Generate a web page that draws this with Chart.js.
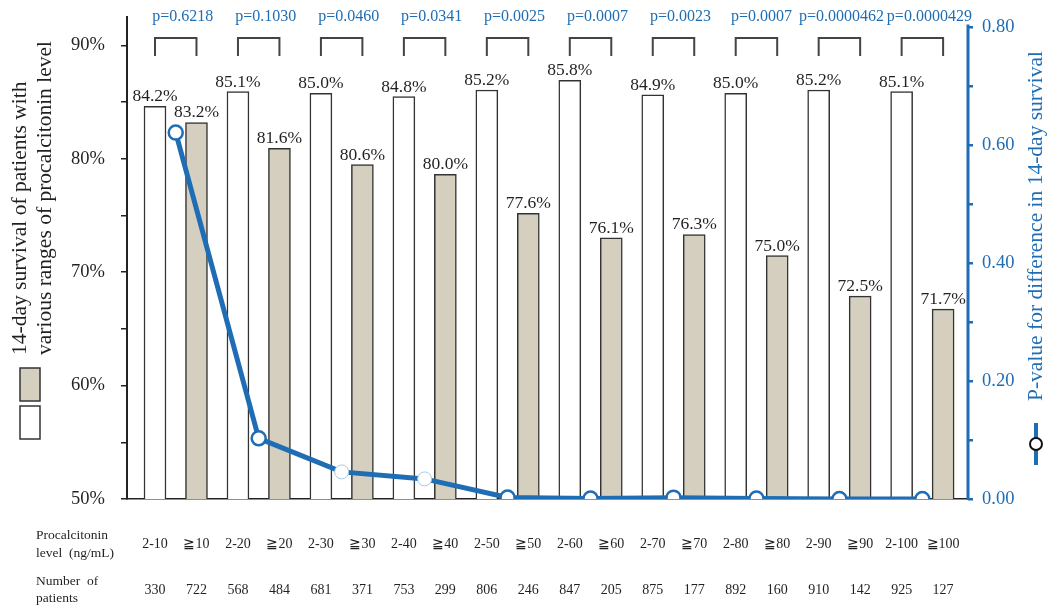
<!DOCTYPE html>
<html>
<head>
<meta charset="utf-8">
<script src="https://cdn.jsdelivr.net/npm/chart.js@4.4.1/dist/chart.umd.min.js"></script>
<style>
  body { margin: 0; background: #fff; }
  #wrap { width: 1051px; height: 605px; }
</style>
</head>
<body>
<div id="wrap"><canvas id="pctChart" width="1051" height="605"></canvas></div>
<script>
// categories along the x axis (pairs: 2-N vs >=N)
const categories = ['2-10', '≧10', '2-20', '≧20', '2-30', '≧30', '2-40', '≧40', '2-50', '≧50',
    '2-60', '≧60', '2-70', '≧70', '2-80', '≧80', '2-90', '≧90', '2-100', '≧100'];
const patients = [330, 722, 568, 484, 681, 371, 753, 299, 806, 246,
    847, 205, 875, 177, 892, 160, 910, 142, 925, 127];

// 14-day survival (%)
const survivalBelow = [84.2, 85.1, 85.0, 84.8, 85.2, 85.8, 84.9, 85.0, 85.2, 85.1];
const survivalAbove = [83.2, 81.6, 80.6, 80.0, 77.6, 76.1, 76.3, 75.0, 72.5, 71.7];

// p-value for difference in 14-day survival, one per pair
const pValues = [0.6218, 0.1030, 0.0460, 0.0341, 0.0025, 0.0007, 0.0023, 0.0007, 0.0000462, 0.0000429];
const pLabels = ['p=0.6218', 'p=0.1030', 'p=0.0460', 'p=0.0341', 'p=0.0025',
    'p=0.0007', 'p=0.0023', 'p=0.0007', 'p=0.0000462', 'p=0.0000429'];

// tick values
const survivalTicks = [50, 55, 60, 65, 70, 75, 80, 85, 90];
const pTicks = [0, 0.1, 0.2, 0.3, 0.4, 0.5, 0.6, 0.7, 0.8];

const BLUE = '#1f6db4';
const BEIGE = '#d4cfbe';
const INK = '#231f20';
const SERIF = "'Liberation Serif', 'Times New Roman', serif";

const whiteBars = survivalBelow.map((v, i) => ({ x: i * 2, y: v }));
const beigeBars = survivalAbove.map((v, i) => ({ x: i * 2 + 1, y: v }));
const pPoints = pValues.map((v, i) => ({ x: i * 2 + 0.5, y: v }));

// no extra room for half-labels at the ends of the axes
const noEdgePadding = scale => {
    scale.paddingTop = 0;
    scale.paddingBottom = 0;
    scale.paddingLeft = 0;
    scale.paddingRight = 0;
};

// everything drawn around the plot: labels, brackets, titles, legend keys
const overlay = {
    id: 'overlay',
    afterDatasetsDraw(chart) {
        const ctx = chart.ctx;
        ctx.save();
        ctx.font = '17.5px ' + SERIF;
        ctx.fillStyle = INK;
        ctx.textAlign = 'center';
        ctx.textBaseline = 'alphabetic';
        [0, 1].forEach(di => {
            const values = di === 0 ? survivalBelow : survivalAbove;
            chart.getDatasetMeta(di).data.forEach((bar, i) => {
                ctx.fillText(values[i].toFixed(1) + '%', bar.x, bar.y - 5);
            });
        });
        ctx.restore();
    },
    afterDraw(chart) {
        const { ctx, chartArea, scales } = chart;
        const x = scales.x, yP = scales.yP;
        ctx.save();

        // brackets + p-values over every pair
        ctx.strokeStyle = '#444';
        ctx.lineWidth = 2;
        ctx.font = '16px ' + SERIF;
        ctx.textAlign = 'center';
        ctx.textBaseline = 'alphabetic';
        pLabels.forEach((txt, i) => {
            const x0 = x.getPixelForValue(i * 2);
            const x1 = x.getPixelForValue(i * 2 + 1);
            const top = chartArea.top + 21;
            ctx.beginPath();
            ctx.moveTo(x0, top + 18);
            ctx.lineTo(x0, top);
            ctx.lineTo(x1, top);
            ctx.lineTo(x1, top + 18);
            ctx.stroke();
            ctx.fillStyle = BLUE;
            let shift = 7;
            if (i === 7) shift = 5;
            if (i === 8) shift = 2;
            ctx.fillText(txt, (x0 + x1) / 2 + shift, 21);
        });

        // right axis line, only up to 0.80
        ctx.strokeStyle = BLUE;
        ctx.lineWidth = 3;
        ctx.beginPath();
        ctx.moveTo(chartArea.right, yP.getPixelForValue(0) + 1);
        ctx.lineTo(chartArea.right, yP.getPixelForValue(0.8) - 3);
        ctx.stroke();

        // left title (two lines, rotated)
        ctx.fillStyle = INK;
        ctx.font = '21.5px ' + SERIF;
        ctx.textAlign = 'left';
        ctx.textBaseline = 'middle';
        [['14-day survival of patients with', 20], ['various ranges of procalcitonin level', 45]].forEach(([t, px]) => {
            ctx.save();
            ctx.translate(px, 355);
            ctx.rotate(-Math.PI / 2);
            ctx.fillText(t, 0, 0);
            ctx.restore();
        });

        // left legend keys
        ctx.lineWidth = 1.5;
        ctx.strokeStyle = '#333';
        ctx.fillStyle = BEIGE;
        ctx.fillRect(20, 368, 20, 33);
        ctx.strokeRect(20, 368, 20, 33);
        ctx.fillStyle = '#fff';
        ctx.fillRect(20, 406, 20, 33);
        ctx.strokeRect(20, 406, 20, 33);

        // right title
        ctx.fillStyle = BLUE;
        ctx.textAlign = 'center';
        ctx.save();
        ctx.translate(1036, 226);
        ctx.rotate(-Math.PI / 2);
        ctx.fillText('P-value for difference in 14-day survival', 0, 0);
        ctx.restore();

        // right legend key
        ctx.strokeStyle = BLUE;
        ctx.lineWidth = 4;
        ctx.beginPath();
        ctx.moveTo(1036, 423);
        ctx.lineTo(1036, 465);
        ctx.stroke();
        ctx.beginPath();
        ctx.arc(1036, 444, 6, 0, Math.PI * 2);
        ctx.fillStyle = '#fff';
        ctx.fill();
        ctx.strokeStyle = '#111';
        ctx.lineWidth = 2;
        ctx.stroke();

        // row headers under the axis
        ctx.fillStyle = INK;
        ctx.font = '13.5px ' + SERIF;
        ctx.textAlign = 'left';
        ctx.textBaseline = 'middle';
        ctx.fillText('Procalcitonin', 36, 535);
        ctx.fillText('level  (ng/mL)', 36, 553);
        ctx.fillText('Number  of', 36, 581);
        ctx.fillText('patients', 36, 598);

        ctx.restore();
    }
};

new Chart(document.getElementById('pctChart'), {
    type: 'bar',
    data: {
        datasets: [
            {
                label: '2-N',
                data: whiteBars,
                yAxisID: 'yBar',
                backgroundColor: '#fff',
                borderColor: '#333',
                borderWidth: 1.5,
                barThickness: 22,
                grouped: false,
                order: 1
            },
            {
                label: '>=N',
                data: beigeBars,
                yAxisID: 'yBar',
                backgroundColor: BEIGE,
                borderColor: '#333',
                borderWidth: 1.5,
                barThickness: 22,
                grouped: false,
                order: 1
            },
            {
                type: 'line',
                label: 'p-value',
                data: pPoints,
                yAxisID: 'yP',
                borderColor: BLUE,
                borderWidth: 5,
                tension: 0,
                pointRadius: 7,
                pointBackgroundColor: '#fff',
                pointBorderColor: [BLUE, BLUE, '#a9c9e8', '#a9c9e8', BLUE, BLUE, BLUE, BLUE, BLUE, BLUE],
                pointBorderWidth: [2.5, 2.5, 1, 1, 2.5, 2.5, 2.5, 2.5, 2.5, 2.5],
                order: 0
            }
        ]
    },
    options: {
        responsive: false,
        animation: false,
        layout: { padding: { top: 17, left: 0, right: 0, bottom: 0 } },
        plugins: {
            legend: { display: false },
            tooltip: { enabled: false }
        },
        scales: {
            x: {
                type: 'linear',
                position: 'bottom',
                min: -0.675,
                max: 19.6,
                offset: false,
                grid: { display: false, drawTicks: false, offset: false },
                border: { display: true, color: '#222', width: 1.5 },
                afterBuildTicks: scale => {
                    scale.ticks = categories.map((c, i) => ({ value: i }));
                },
                afterFit: scale => { noEdgePadding(scale); scale.height = 106; },
                ticks: {
                    autoSkip: false,
                    maxRotation: 0,
                    padding: 22,
                    color: INK,
                    font: { family: SERIF, size: 14, lineHeight: '46px' },
                    callback: v => [categories[Math.round(v)], String(patients[Math.round(v)])]
                }
            },
            y: {
                position: 'left',
                min: 50,
                max: 92.5,
                grid: { drawOnChartArea: false, color: '#222', lineWidth: 1.5, tickLength: 6 },
                border: { display: true, color: '#222', width: 2 },
                afterBuildTicks: scale => {
                    scale.ticks = survivalTicks.map(v => ({ value: v }));
                },
                afterFit: scale => { noEdgePadding(scale); scale.width = 127; },
                ticks: {
                    padding: 16,
                    color: INK,
                    font: { family: SERIF, size: 18.5 },
                    callback: v => (v % 10 === 0 ? v + '%' : '')
                }
            },
            yBar: {
                display: false,
                min: 60,
                max: 89.7
            },
            yP: {
                position: 'right',
                min: 0,
                max: 0.818,
                grid: { drawOnChartArea: false, color: BLUE, lineWidth: 2.5, tickLength: 5 },
                border: { display: false },
                afterBuildTicks: scale => {
                    scale.ticks = pTicks.map(v => ({ value: v }));
                },
                afterFit: scale => { noEdgePadding(scale); scale.width = 83; },
                ticks: {
                    padding: 9,
                    color: BLUE,
                    font: { family: SERIF, size: 18.5 },
                    callback: v => (Math.round(v * 10) % 2 === 0 ? v.toFixed(2) : '')
                }
            }
        }
    },
    plugins: [overlay]
});
</script>
</body>
</html>
